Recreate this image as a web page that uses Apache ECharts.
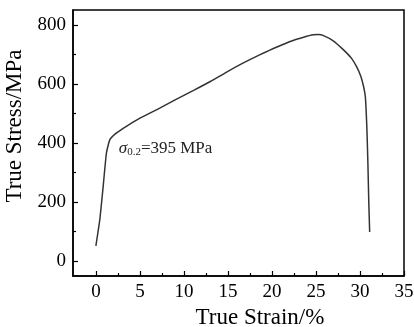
<!DOCTYPE html>
<html>
<head>
<meta charset="utf-8">
<script src="https://cdn.jsdelivr.net/npm/echarts@6/dist/echarts.min.js"></script>
<style>
  html, body { margin: 0; padding: 0; background: #fff; }
  #chart { width: 414px; height: 327px; }
</style>
</head>
<body>
<div id="chart"></div>
<script>
// strain (%)
const strain = [0, 0.45, 0.83, 1.2, 1.6, 2.35, 3.5, 5, 7.3, 9, 11.1, 13, 14.85, 16.7, 18.6, 20.5, 22.4, 23.6, 24.7, 25.3, 25.8, 27, 28.1, 29, 29.6, 30.1, 30.4, 30.6, 30.7, 30.8, 30.9, 31.0, 31.1];
// stress (MPa)
const stress = [52, 142, 254, 367, 412, 434, 457, 484, 519, 546, 578, 608, 640, 670, 698, 724, 747, 758, 766, 767, 764, 745, 716, 688, 659, 625, 592, 559, 510, 435, 330, 200, 99];
const xTicks = [0, 5, 10, 15, 20, 25, 30, 35];
const xMinor = [2.5, 7.5, 12.5, 17.5, 22.5, 27.5, 32.5];
const yTicks = [0, 200, 400, 600, 800];
const yMinor = [100, 300, 500, 700];

const curve = strain.map((s, i) => [s, stress[i]]);

const chart = echarts.init(document.getElementById('chart'));
const font = '"Liberation Serif", "DejaVu Serif", serif';
const black = '#000';

const hiddenAxis = (vals, extra) => Object.assign({
  type: 'value',
  axisLine: { show: false, onZero: false },
  axisTick: { show: true, inside: true, length: 3, customValues: vals, lineStyle: { color: black, width: 1.2 } },
  axisLabel: { show: false },
  splitLine: { show: false }
}, extra);

chart.setOption({
  animation: false,
  grid: {
    left: 73, right: 10, top: 10, bottom: 51,
    outerBoundsMode: 'none',
    containLabel: false,
    show: true, borderColor: black, borderWidth: 1.5
  },
  xAxis: [{
    type: 'value',
    min: -2.6, max: 35,
    name: 'True Strain/%',
    nameLocation: 'middle',
    nameGap: 29,
    nameTextStyle: { fontFamily: font, fontSize: 23, color: black, padding: [0, 0, 0, 43] },
    axisLine: { onZero: false, lineStyle: { color: black, width: 1.5 } },
    axisTick: { inside: true, length: 5, customValues: xTicks, lineStyle: { color: black, width: 1.2 } },
    splitLine: { show: false },
    axisLabel: { fontFamily: font, fontSize: 19, color: black, margin: 7, customValues: xTicks }
  }, hiddenAxis(xMinor, { min: -2.6, max: 35, position: 'bottom' })],
  yAxis: [{
    type: 'value',
    min: -50, max: 850,
    name: 'True Stress/MPa',
    nameLocation: 'middle',
    nameGap: 45,
    nameTextStyle: { fontFamily: font, fontSize: 23, color: black, padding: [0, 0, 0, 34] },
    axisLine: { show: true, onZero: false, lineStyle: { color: black, width: 1.5 } },
    axisTick: { show: true, inside: true, length: 5, customValues: yTicks, lineStyle: { color: black, width: 1.2 } },
    splitLine: { show: false },
    axisLabel: { fontFamily: font, fontSize: 19, color: black, margin: 7, customValues: yTicks }
  }, hiddenAxis(yMinor, { min: -50, max: 850, position: 'left' })],
  series: [{
    type: 'line',
    data: curve,
    smooth: 0.15,
    showSymbol: false,
    lineStyle: { color: '#333', width: 1.5 },
    markPoint: {
      symbol: 'circle', symbolSize: 0,
      data: [{ coord: [2.6, 381] }],
      label: {
        show: true, position: 'right', distance: 0,
        formatter: '{s|σ}{sub|0.2}{t|=395 MPa}',
        rich: {
          s: { fontFamily: font, fontStyle: 'italic', fontSize: 17, color: '#222' },
          sub: { fontFamily: font, fontSize: 11, color: '#222', padding: [7, 0, 0, 0] },
          t: { fontFamily: font, fontSize: 17, color: '#222' }
        }
      }
    }
  }]
});
</script>
</body>
</html>
